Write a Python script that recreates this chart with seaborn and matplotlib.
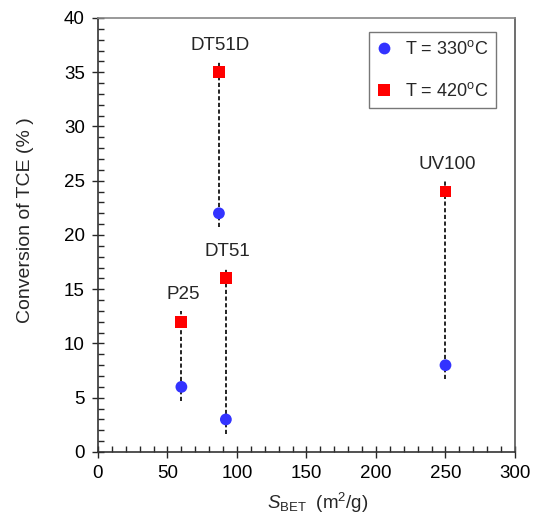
import matplotlib
matplotlib.use('Agg')
import matplotlib.pyplot as plt
from matplotlib.ticker import MultipleLocator
import seaborn as sns
import pandas as pd

samples = ['P25', 'DT51D', 'DT51', 'UV100']
s_bet = [60, 87, 92, 250]
conv_330 = [6, 22, 3, 8]
conv_420 = [12, 35, 16, 24]
temp_labels = ['T = 330$^{\\mathrm{o}}$C', 'T = 420$^{\\mathrm{o}}$C']

sns.set_style('white')
plt.rcParams['font.family'] = ['Liberation Sans', 'DejaVu Sans']
plt.rcParams['mathtext.fontset'] = 'custom'
plt.rcParams['mathtext.rm'] = 'Liberation Sans'
plt.rcParams['mathtext.it'] = 'Liberation Sans:italic'

df = pd.DataFrame({
    'sample': samples * 2,
    'S_BET': s_bet * 2,
    'conv': conv_330 + conv_420,
    'T': [temp_labels[0]] * len(samples) + [temp_labels[1]] * len(samples),
})

fig = plt.figure(figsize=(5.34, 5.29), dpi=100)
ax = fig.add_axes([0.1835, 0.1456, 0.7809, 0.8204])

# dashed connectors between the two temperatures
for x, lo, hi in zip(s_bet, conv_330, conv_420):
    ax.plot([x, x], [min(lo, hi) - 1.3, max(lo, hi) + 1.0], color='black',
            linestyle=(0, (2.5, 1.5)), linewidth=1.2, zorder=1)

sns.scatterplot(data=df, x='S_BET', y='conv', hue='T', style='T',
                palette={temp_labels[0]: '#3333ff', temp_labels[1]: '#ff0000'},
                markers={temp_labels[0]: 'o', temp_labels[1]: 's'},
                s=72, edgecolor='none', linewidth=0, ax=ax, zorder=3)

# sample labels above the top marker
for name, x, hi in zip(samples, s_bet, conv_420):
    ax.text(x + 1, hi + 2.5, name, ha='center', va='center', fontsize=13.5)

ax.set_xlim(0, 300)
ax.set_ylim(0, 40)
ax.xaxis.set_major_locator(MultipleLocator(50))
ax.xaxis.set_minor_locator(MultipleLocator(10))
ax.yaxis.set_major_locator(MultipleLocator(5))
ax.yaxis.set_minor_locator(MultipleLocator(1))
ax.tick_params(which='major', direction='inout', length=9, width=1, labelsize=13.5,
               bottom=True, left=True, pad=5, labelcolor='black')
ax.tick_params(which='minor', direction='in', length=4, width=1, bottom=True, left=True)

for sp in ax.spines.values():
    sp.set_color('#333333')
    sp.set_linewidth(1.2)
ax.spines['top'].set_color('#888888')
ax.spines['right'].set_color('#555555')

ax.set_xlabel('$S_{\\mathrm{BET}}$  (m$^2$/g)', fontsize=13.5, va='center')
ax.set_ylabel('Conversion of TCE (% )', fontsize=14, va='center')
ax.xaxis.set_label_coords(0.528, -0.118)
ax.yaxis.set_label_coords(-0.175, 0.535)

handles, labels = ax.get_legend_handles_labels()
leg = ax.legend(handles, labels, loc='upper right', bbox_to_anchor=(0.955, 0.968),
                fancybox=False, frameon=True, edgecolor='#555555', fontsize=13,
                labelspacing=1.35, handletextpad=0.75, borderpad=0.45,
                handlelength=0.8, borderaxespad=0)
leg.get_frame().set_linewidth(1.0)

fig.savefig('out.png', dpi=100)
plt.close(fig)
